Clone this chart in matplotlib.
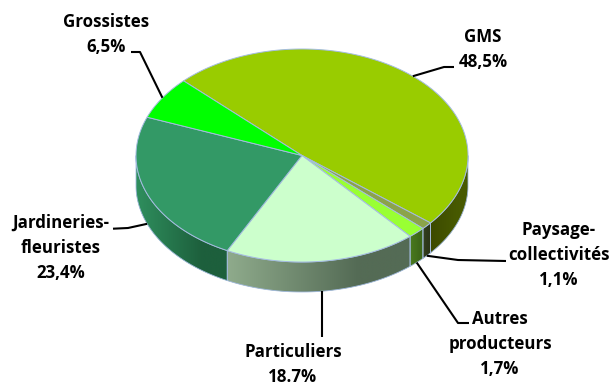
import numpy as np
import matplotlib
matplotlib.use("Agg")
import matplotlib.pyplot as plt
from matplotlib.patches import Polygon
from matplotlib.colors import to_rgb

# Sales channels and their shares (%)
categories = ["GMS", "Paysage-\ncollectivités", "Autres\nproducteurs",
              "Particuliers", "Jardineries-\nfleuristes", "Grossistes"]
shares = [48.5, 1.1, 1.7, 18.7, 23.4, 6.5]
share_labels = ["48,5%", "1,1%", "1,7%", "18.7%", "23,4%", "6,5%"]

top_colors = ["#99CC00", "#8BA34A", "#99FF33", "#CCFFCC", "#339966", "#00FF00"]
side_colors = [("#3c4a00", "#485a00"), ("#36421f", "#2c361a"),
               ("#4a7a1e", "#3e6818"), ("#8fab8c", "#546b55"),
               ("#2f8f5e", "#1d5f3c"), ("#00b000", "#008000")]
edge_color = "#a4bce0"

# Pie geometry in pixel space
W, H = 612, 383
cx, cy, rx, ry, depth = 302.0, 155.5, 166.0, 106.5, 30.0
start_angle = 135.5

# label layout: text centre x, first baseline y, elbow point, line end point
label_layout = [
    dict(x=483, y=41.7, elbow=(444, 67), end=(454, 67)),
    dict(x=559, y=235.3, elbow=(458, 260), end=(506, 261)),
    dict(x=500, y=323.7, elbow=(458, 323), end=(469, 323)),
    dict(x=293, y=356.7, elbow=None, end=(321, 337)),
    dict(x=61, y=228.0, elbow=(128, 228), end=(113, 228.7)),
    dict(x=106, y=27.0, elbow=(140, 52), end=(131, 52)),
]
line_h = 25.0

fig = plt.figure(figsize=(W / 100, H / 100), dpi=100)
ax = fig.add_axes([0, 0, 1, 1])
ax.axis("off")


def rim(t_deg, drop=0.0):
    t = np.radians(t_deg)
    return cx + rx * np.cos(t), cy - ry * np.sin(t) + drop


total = sum(shares)
bounds = []
a0 = start_angle
for v in shares:
    a1 = a0 - 360.0 * v / total
    bounds.append((a1, a0))
    a0 = a1

# side walls (front half of the cylinder), shaded left to right
for (lo_s, hi_s), (c_left, c_right) in zip(bounds, side_colors):
    for k in (-360, 0, 360):
        lo = max(lo_s, 180 + k)
        hi = min(hi_s, 360 + k)
        if lo >= hi:
            continue
        tt = np.linspace(lo, hi, 200)
        top = [rim(t) for t in tt]
        bot = [rim(t, depth) for t in tt[::-1]]
        poly = top + bot
        xs = [p[0] for p in poly]
        ys = [p[1] for p in poly]
        xl, xr = min(xs), max(xs)
        yt, yb = min(ys), max(ys)
        cl, cr = np.array(to_rgb(c_left)), np.array(to_rgb(c_right))
        # solid base fill underneath the gradient
        ax.add_patch(Polygon(poly, closed=True, facecolor=0.5 * (cl + cr),
                             edgecolor="none", zorder=0.5))
        n = 256
        f = np.clip(np.linspace(0, 1, n) * 1.4, 0, 1)
        grad = cl[None, :] + (cr - cl)[None, :] * f[:, None]
        img = np.repeat(grad[None, :, :], 2, axis=0)
        clip = Polygon(poly, closed=True, facecolor="none", edgecolor="none",
                       transform=ax.transData)
        ax.add_patch(clip)
        im = ax.imshow(img, extent=(xl - 0.5, xr + 0.5, yb + 0.5, yt - 0.5),
                       aspect="auto", interpolation="bilinear", zorder=1)
        im.set_clip_path(clip)
        ax.add_patch(Polygon(poly, closed=True, facecolor="none",
                             edgecolor=edge_color, linewidth=0.6, zorder=2))

# top faces
for (lo_s, hi_s), col in zip(bounds, top_colors):
    tt = np.linspace(lo_s, hi_s, 300)
    pts = [(cx, cy)] + [rim(t) for t in tt]
    ax.add_patch(Polygon(pts, closed=True, facecolor=col,
                         edgecolor=edge_color, linewidth=0.7, zorder=3))

# labels and leader lines
for (lo_s, hi_s), name, pct, lay in zip(bounds, categories, share_labels, label_layout):
    mid = 0.5 * (lo_s + hi_s)
    front = np.sin(np.radians(mid)) < 0
    anchor = rim(mid, depth if front else 0.0)
    pts = [anchor]
    if lay["elbow"] is not None:
        pts.append(lay["elbow"])
    end = lay["end"]
    if lay["elbow"] is None:
        end = (anchor[0], end[1])
    pts.append(end)
    xs, ys = zip(*pts)
    ax.plot(xs, ys, color="black", linewidth=1.5, solid_capstyle="butt", zorder=4)
    lines = name.split("\n") + [pct]
    for i, s in enumerate(lines):
        ax.text(lay["x"], lay["y"] + i * line_h, s, ha="center", va="baseline",
                fontsize=12.2, fontweight="bold", family=["Open Sans", "DejaVu Sans"],
                color="black", zorder=5)

ax.set_xlim(0, W)
ax.set_ylim(H, 0)
fig.savefig("out.png", dpi=100)
